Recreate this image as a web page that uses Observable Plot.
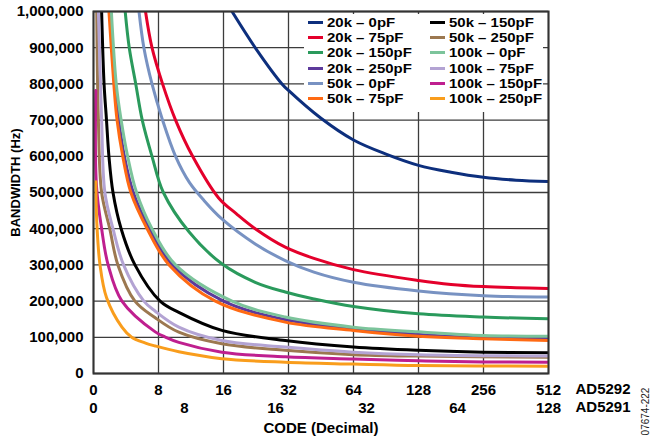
<!DOCTYPE html>
<html><head><meta charset="utf-8">
<script src="https://cdn.jsdelivr.net/npm/d3@7"></script>
<script src="https://cdn.jsdelivr.net/npm/@observablehq/plot@0.6"></script>
<style>
body{margin:0;background:#fff;}
#wrap{position:relative;width:652px;height:440px;font-family:"Liberation Sans",Arial,sans-serif;}
#legend{position:absolute;left:304px;top:14px;width:239px;height:97px;display:grid;grid-template-columns:122px 117px;grid-template-rows:repeat(6,15.2px);grid-auto-flow:column;padding:1px 0 0 4px;box-sizing:border-box;font-weight:bold;font-size:13.6px;line-height:15.2px;color:#000;}
.item{display:flex;align-items:center;white-space:nowrap;height:15.2px;}
.sw{width:15px;height:3px;margin-right:4px;flex:none;}
.lb{display:inline-block;transform:scaleX(1.1);transform-origin:left center;}
</style></head><body><div id="wrap"></div>
<script>
// ---- data ----
const seriesNames = ["20k – 0pF","20k – 75pF","20k – 150pF","20k – 250pF","50k – 0pF","50k – 75pF",
  "50k – 150pF","50k – 250pF","100k – 0pF","100k – 75pF","100k – 150pF","100k – 250pF"];
const seriesColors = ["#0d2f7d","#e4002b","#2a9a5c","#5d3a9b","#7892c2","#ff6a13",
  "#000000","#9c7850","#7cc49b","#b3a3d3","#bf1f8f","#f99d1c"];

// [code, bandwidth Hz]
const bw20k0 = [[18.1,1000000],[24,897000],[30.4,800000],[32,782000],[48,705000],[64,645000],[96,606000],[128,575000],[192,556000],[256,542000],[384,534000],[512,530000]];
const bw20k75 = [[6.4,1000000],[7.2,900000],[8.5,800000],[10.1,700000],[12.2,600000],[15.4,485000],[19.2,441000],[23.8,400000],[31.2,349000],[44.5,318000],[64,287000],[128,257000],[192,246000],[256,240000],[384,237000],[512,235000]];
const bw20k150 = [[3.9,1000000],[4.4,900000],[5.2,800000],[6,700000],[7.2,600000],[8.6,500000],[11.8,390000],[15.8,303000],[23.8,252000],[31.2,225000],[44.5,206000],[64,185000],[128,165000],[256,156000],[512,151000]];
const bw20k250 = [[2.1,1000000],[2.6,800000],[3.1,700000],[3.8,600000],[4.9,500000],[6.9,400000],[9.7,300000],[16,200000],[31.2,149000],[64,123000],[128,108000],[256,99000],[512,96000]];
const bw50k0 = [[5.6,1000000],[6.2,900000],[7.2,800000],[8.5,700000],[10.1,600000],[11.8,528000],[13.6,478000],[15.8,427000],[23.8,358000],[31.2,312000],[44.5,280000],[64,252000],[128,228000],[256,215000],[512,211000]];
const bw50k75 = [[1.9,1000000],[2.5,800000],[2.9,700000],[3.6,600000],[4.6,500000],[6.6,400000],[9.3,300000],[15,200000],[31.2,142000],[64,119000],[128,103000],[256,96000],[512,91000]];
const bw50k150 = [[1.0,1000000],[1.3,800000],[1.6,700000],[1.9,600000],[2.4,500000],[3.4,400000],[5.1,300000],[8.2,200000],[10.5,169000],[15.8,119000],[31.2,91000],[64,73000],[128,64000],[256,59000],[512,57000]];
const bw50k250 = [[0.4,1000000],[0.6,700000],[1.0,500000],[2.0,400000],[3.0,300000],[5.1,200000],[7.6,154000],[10.5,114000],[15.8,82000],[31.2,64000],[64,52000],[128,48000],[512,45000]];
const bw100k0 = [[2.2,1000000],[2.8,800000],[3.4,700000],[4.2,600000],[5.3,500000],[7.2,400000],[10.1,300000],[18.1,200000],[31.2,156000],[64,128000],[128,115000],[256,105000],[512,103000]];
const bw100k75 = [[0.6,1000000],[1.0,700000],[1.4,500000],[2.4,400000],[3.7,300000],[6.2,200000],[7.6,172000],[10.5,128000],[15.8,91000],[31.2,73000],[64,59000],[128,52000],[512,48000]];
const bw100k150 = [[0.28,782000],[0.36,520000],[1.0,400000],[1.8,300000],[3.5,200000],[7.6,115000],[8.8,101000],[10.5,86000],[15.8,59000],[31.2,46000],[64,40000],[128,35000],[256,32000],[512,31000]];
const bw100k250 = [[0.28,530000],[0.4,420000],[0.8,300000],[1.6,210000],[3.5,128000],[4.7,100000],[6.4,84000],[7.6,76000],[10.5,60000],[15.8,41000],[31.2,31000],[64,26000],[128,22000],[512,20000]];

const codeTicks5292 = [0,8,16,32,64,128,256,512];
const codeTicks5291 = [0,8,16,32,64,128];
const bwTicks = [0,100000,200000,300000,400000,500000,600000,700000,800000,900000,1000000];

const seriesData = [bw20k0,bw20k75,bw20k150,bw20k250,bw50k0,bw50k75,bw50k150,bw50k250,bw100k0,bw100k75,bw100k150,bw100k250];

// ---- scale helpers ----
const nSeg = codeTicks5292.length - 1;
const codePos = d3.scaleLinear().domain(codeTicks5292).range(codeTicks5292.map((_, i) => i));
const pos5292 = codeTicks5292.map((_, i) => i);
const pos5291 = codeTicks5291.map((_, i) => i * nSeg / (codeTicks5291.length - 1));

const rows = seriesNames.flatMap((name, k) => seriesData[k].map(([code, bw]) => ({name, pos: codePos(code), bw})));

const gridStyle = {stroke: "#3c3c3c", strokeOpacity: 1, strokeWidth: 1.3};
const bold = {fontWeight: "bold", fontSize: 15};

const plot = Plot.plot({
  width: 652, height: 440,
  marginLeft: 93, marginRight: 104, marginTop: 11, marginBottom: 67,
  style: {fontFamily: "'Liberation Sans', Arial, sans-serif", fontSize: "15px", fontWeight: "bold", color: "#000", overflow: "visible"},
  x: {domain: [0, nSeg], axis: null},
  y: {domain: [0, 1000000], axis: null},
  color: {domain: seriesNames, range: seriesColors},
  marks: [
    Plot.gridX(pos5292, gridStyle),
    Plot.gridY(bwTicks, gridStyle),
    Plot.line(rows, {x: "pos", y: "bw", z: "name", stroke: "name", strokeWidth: 3, curve: "catmull-rom", clip: true}),
    Plot.frame({stroke: "#333", strokeWidth: 2}),
    Plot.axisY(bwTicks, {anchor: "left", tickSize: 0, tickPadding: 10, tickFormat: d3.format(","), label: null, ...bold}),
    Plot.axisX(pos5292, {anchor: "bottom", tickSize: 0, tickPadding: 11, tickFormat: d => codeTicks5292[pos5292.indexOf(d)], label: null, ...bold}),
    Plot.axisX(pos5291, {anchor: "bottom", tickSize: 0, tickPadding: 29, tickFormat: d => codeTicks5291[pos5291.indexOf(d)], label: null, ...bold}),
    Plot.text(["AD5292"], {text: d => d, frameAnchor: "bottom-right", dx: 27, dy: 16, textAnchor: "start", lineAnchor: "middle", ...bold}),
    Plot.text(["AD5291"], {text: d => d, frameAnchor: "bottom-right", dx: 27, dy: 34, textAnchor: "start", lineAnchor: "middle", ...bold}),
    Plot.text(["CODE (Decimal)"], {text: d => d, frameAnchor: "bottom", dy: 55, textAnchor: "middle", lineAnchor: "middle", ...bold}),
    Plot.text(["BANDWIDTH (Hz)"], {text: d => d, frameAnchor: "left", dx: -78, dy: -10, rotate: -90, textAnchor: "middle", lineAnchor: "middle", fontWeight: "bold", fontSize: 13}),
    Plot.text(["07674-222"], {text: d => d, frameAnchor: "bottom-right", dx: 97, dy: 38, rotate: -90, textAnchor: "middle", lineAnchor: "middle", fontWeight: "normal", fontSize: 10, fill: "#222"})
  ]
});

// white legend panel behind the curves, above the grid
const lineGroup = plot.querySelector('g[aria-label="line"]');
if (lineGroup) {
  const r = document.createElementNS("http://www.w3.org/2000/svg", "rect");
  r.setAttribute("x", 304); r.setAttribute("y", 14);
  r.setAttribute("width", 239); r.setAttribute("height", 98);
  r.setAttribute("fill", "#fff");
  lineGroup.parentNode.insertBefore(r, lineGroup);
}

const wrap = document.getElementById("wrap");
wrap.appendChild(plot);

const legend = document.createElement("div");
legend.id = "legend";
seriesNames.forEach((name, k) => {
  const item = document.createElement("div");
  item.className = "item";
  const sw = document.createElement("span");
  sw.className = "sw";
  sw.style.background = seriesColors[k];
  const label = document.createElement("span");
  label.className = "lb";
  label.textContent = name;
  item.appendChild(sw);
  item.appendChild(label);
  legend.appendChild(item);
});
wrap.appendChild(legend);
</script></body></html>
